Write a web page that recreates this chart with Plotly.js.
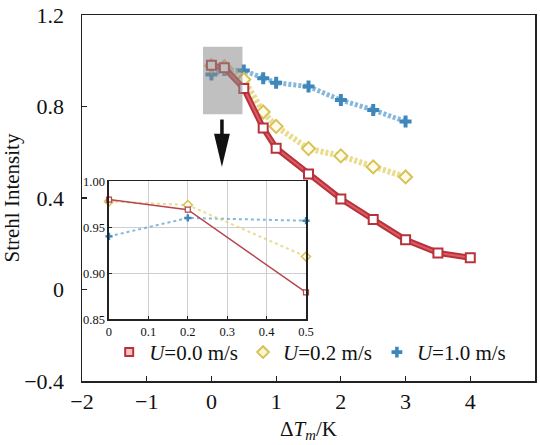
<!DOCTYPE html>
<html><head><meta charset="utf-8">
<script src="https://cdn.plot.ly/plotly-3.0.1.min.js"></script>
<style>html,body{margin:0;padding:0;background:#fff}</style>
</head><body>
<div id="chart" style="width:540px;height:445px"></div>
<script>
// ---- data ----
const seriesNames = ['<i>U</i>=0.0 m/s', '<i>U</i>=0.2 m/s', '<i>U</i>=1.0 m/s'];
const dT_u00 = [0, 0.2, 0.5, 0.8, 1.0, 1.5, 2.0, 2.5, 3.0, 3.5, 4.0];
const si_u00 = [0.980, 0.969, 0.879, 0.706, 0.618, 0.505, 0.396, 0.306, 0.217, 0.160, 0.139];
const dT_u02 = [0, 0.2, 0.5, 0.8, 1.0, 1.5, 2.0, 2.5, 3.0];
const si_u02 = [0.978, 0.974, 0.918, 0.776, 0.713, 0.616, 0.584, 0.536, 0.492];
const dT_u10 = [0, 0.2, 0.5, 0.8, 1.0, 1.5, 2.0, 2.5, 3.0];
const si_u10 = [0.940, 0.960, 0.957, 0.923, 0.904, 0.887, 0.828, 0.785, 0.734];
const xTicks = [-2, -1, 0, 1, 2, 3, 4, 5];
const yTicks = [-0.4, 0, 0.4, 0.8, 1.2];
const insetXTicks = [0, 0.1, 0.2, 0.3, 0.4, 0.5];
const insetYTicks = [0.85, 0.90, 0.95, 1.00];
const insetMax = 0.5;

// ---- helpers ----
function clipX(xs, ys) {
  const ox = [], oy = [];
  xs.forEach((v, i) => { if (v <= insetMax + 1e-9) { ox.push(v); oy.push(ys[i]); } });
  return [ox, oy];
}
const FONT = '"Liberation Serif", serif';
const RED = '#b8323c', RED2 = '#db5e62';
const YEL = 'rgba(228,212,112,0.8)', YELM = '#d6c256';
const BLU = 'rgba(110,172,214,0.85)', BLUM = '#3d87bb';

const [ix0, iy0] = clipX(dT_u00, si_u00);
const [ix2, iy2] = clipX(dT_u02, si_u02);
const [ix10, iy10] = clipX(dT_u10, si_u10);

const traces = [
  // main plot
  {x: dT_u10, y: si_u10, mode: 'lines+markers', showlegend: false,
   line: {color: BLU, width: 5, dash: '3px,2px'},
   marker: {symbol: 'cross', size: 10, color: BLUM, line: {width: 0}}},
  {x: dT_u02, y: si_u02, mode: 'lines+markers', showlegend: false,
   line: {color: YEL, width: 6, dash: '3px,2px'},
   marker: {symbol: 'diamond', size: 10, color: '#fffbe8', line: {color: YELM, width: 2}}},
  {x: dT_u00, y: si_u00, mode: 'lines', showlegend: false,
   line: {color: RED, width: 6}},
  {x: dT_u00, y: si_u00, mode: 'lines+markers', showlegend: false,
   line: {color: RED2, width: 2},
   marker: {symbol: 'square', size: 9, color: '#ffffff', line: {color: RED, width: 2}}},
  // inset
  {x: ix10, y: iy10, xaxis: 'x2', yaxis: 'y2', mode: 'lines+markers', showlegend: false, cliponaxis: false,
   line: {color: BLU, width: 2, dash: 'dot'},
   marker: {symbol: 'cross', size: 6, color: BLUM, line: {width: 0}}},
  {x: ix2, y: iy2, xaxis: 'x2', yaxis: 'y2', mode: 'lines+markers', showlegend: false, cliponaxis: false,
   line: {color: YEL, width: 2, dash: 'dot'},
   marker: {symbol: 'diamond', size: 7, color: '#fffbe8', line: {color: YELM, width: 1.5}}},
  {x: ix0, y: iy0, xaxis: 'x2', yaxis: 'y2', mode: 'lines+markers', showlegend: false, cliponaxis: false,
   line: {color: '#b84450', width: 1.5},
   marker: {symbol: 'square', size: 5, color: '#ffffff', line: {color: '#b84450', width: 1.2}}},
  // legend entries (markers only)
  {x: [null], y: [null], mode: 'markers', name: seriesNames[0],
   marker: {symbol: 'square', size: 8, color: '#f2c4c6', line: {color: RED, width: 2}}},
  {x: [null], y: [null], mode: 'markers', name: seriesNames[1],
   marker: {symbol: 'diamond', size: 9, color: '#fbf5d6', line: {color: YELM, width: 2}}},
  {x: [null], y: [null], mode: 'markers', name: seriesNames[2],
   marker: {symbol: 'cross', size: 9, color: BLUM, line: {width: 0}}}
];

const axisCommon = {
  showline: true, mirror: true, linecolor: '#222', linewidth: 1.5,
  ticks: 'inside', ticklen: 5, tickwidth: 1.2, tickcolor: '#222',
  showgrid: false, zeroline: false, tickfont: {family: FONT, size: 22, color: '#111'}
};

const layout = {
  width: 540, height: 445,
  margin: {l: 82, r: 5, t: 15, b: 64},
  paper_bgcolor: '#fff', plot_bgcolor: '#fff',
  font: {family: FONT, color: '#111'},
  xaxis: Object.assign({}, axisCommon, {
    range: [-2, 5], tickvals: xTicks, ticklabelstandoff: 0,
    title: {text: 'Δ<i>T</i><sub><i>m</i></sub>/K', font: {family: FONT, size: 21}, standoff: 8}
  }),
  yaxis: Object.assign({}, axisCommon, {
    range: [-0.4, 1.2], tickvals: yTicks, ticklabelstandoff: 12,
    title: {text: 'Strehl Intensity', font: {family: FONT, size: 21}, standoff: 0}
  }),
  xaxis2: {
    domain: [0.0596, 0.4945], anchor: 'y2', range: [0, 0.5], tickvals: insetXTicks,
    showline: true, mirror: true, linecolor: '#222', linewidth: 1.5,
    ticks: 'inside', ticklen: 3, tickcolor: '#222',
    showgrid: true, gridcolor: '#cfcfcf', gridwidth: 1, zeroline: false,
    tickfont: {family: FONT, size: 12.5, color: '#111'}
  },
  yaxis2: {
    domain: [0.169, 0.546], anchor: 'x2', range: [0.85, 1.0], tickvals: insetYTicks, tickformat: '.2f',
    showline: true, mirror: true, linecolor: '#222', linewidth: 1.5,
    ticks: 'inside', ticklen: 3, tickcolor: '#222',
    showgrid: true, gridcolor: '#cfcfcf', gridwidth: 1, zeroline: false,
    tickfont: {family: FONT, size: 12.5, color: '#111'}
  },
  legend: {
    orientation: 'h', x: 0.06, xanchor: 'left', y: 0.078, yanchor: 'middle',
    bgcolor: 'rgba(0,0,0,0)', font: {family: FONT, size: 21, color: '#111'},
    itemwidth: 30, traceorder: 'normal'
  },
  shapes: [
    // zoom region
    {type: 'rect', xref: 'x', yref: 'y', x0: -0.13, x1: 0.48, y0: 0.766, y1: 1.061,
     fillcolor: 'rgba(140,140,140,0.55)', line: {width: 0}, layer: 'above'},
    // arrow shaft
    {type: 'rect', xref: 'x', yref: 'y', x0: 0.135, x1: 0.19, y0: 0.675, y1: 0.743,
     fillcolor: '#111', line: {width: 0}, layer: 'above'},
    // arrow head
    {type: 'path', xref: 'x', yref: 'y', path: 'M 0.04 0.681 L 0.285 0.681 L 0.162 0.535 Z',
     fillcolor: '#111', line: {width: 0}, layer: 'above'}
  ]
};

Plotly.newPlot('chart', traces, layout, {displayModeBar: false, staticPlot: true});
</script>
</body></html>
